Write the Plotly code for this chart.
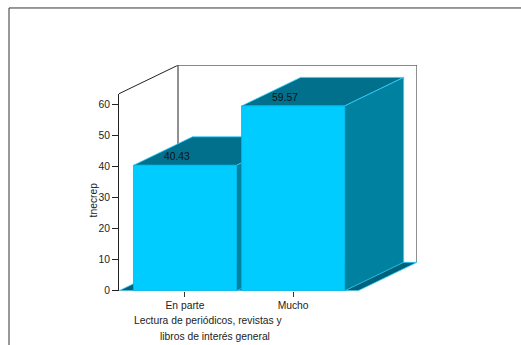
import plotly.graph_objects as go

# ---- data ----
categories = ["En parte", "Mucho"]
values = [40.43, 59.57]
y_ticks = [0, 10, 20, 30, 40, 50, 60]
y_title = "tnecrep"
x_title_lines = ["Lectura de periódicos, revistas y", "libros de interés general"]

# ---- geometry (pixels) ----
W, H = 521, 345
YS = 345 / 340.0  # vertical correction for rendering
AX_LEFT, AX_RIGHT = 119, 358
FLOOR_Y, AX_TOP = 291.7 * YS, 94 * YS
DEPTH_DX, DEPTH_DY = 59, 28.6 * YS
X_RANGE = [-0.61, 1.60]
Y_RANGE = [0, 63.5]
BAR_W = 0.953

ppx = (AX_RIGHT - AX_LEFT) / (X_RANGE[1] - X_RANGE[0])
ppy = (FLOOR_Y - AX_TOP) / (Y_RANGE[1] - Y_RANGE[0])
DX = DEPTH_DX / ppx
DY = DEPTH_DY / ppy

FRONT = "#00CCFF"
TOP = "#00708C"
SIDE = "#00819F"
FLOOR = "#00627A"
EDGE = "#2ECFFF"
FONT = "Liberation Sans, Arial, sans-serif"
FS = 10.3

xs = list(range(len(categories)))

fig = go.Figure()
fig.add_trace(go.Bar(
    x=xs, y=values, width=BAR_W,
    marker=dict(color=FRONT, line=dict(color="#00B5E5", width=0.8)),
    hoverinfo="skip", showlegend=False,
))
fig.add_trace(go.Scatter(
    x=[x - 0.075 for x in xs], y=[v + 2.4 for v in values],
    text=[f"{v:.2f}" for v in values], mode="text",
    textfont=dict(family=FONT, size=FS, color="#111"),
    showlegend=False, hoverinfo="skip",
))
# tick axes subplot (dummy trace)
fig.add_trace(go.Scatter(x=[None], y=[None], xaxis="x2", yaxis="y2",
                         showlegend=False, hoverinfo="skip"))

xmin, xmax = X_RANGE
ytop = Y_RANGE[1]
shapes = []

def path(pts, close=True):
    s = "M " + " L ".join(f"{x},{y}" for x, y in pts)
    return s + (" Z" if close else "")

# walls
shapes.append(dict(type="path", xref="x", yref="y", layer="below",
                   path=path([(xmin, ytop), (xmin + DX, ytop + DY), (xmax + DX, ytop + DY),
                              (xmax + DX, DY)], close=False),
                   line=dict(color="#222", width=1)))
shapes.append(dict(type="path", xref="x", yref="y", layer="below",
                   path=path([(xmin + DX, ytop + DY), (xmin + DX, DY)], close=False),
                   line=dict(color="#222", width=1)))
# floor
shapes.append(dict(type="path", xref="x", yref="y", layer="below",
                   path=path([(xmin, 0), (xmax, 0), (xmax + DX, DY), (xmin + DX, DY)]),
                   fillcolor=FLOOR, line=dict(color=EDGE, width=0.8)))
# bar tops & sides
for x, v in zip(xs, values):
    xl, xr = x - BAR_W / 2, x + BAR_W / 2
    shapes.append(dict(type="path", xref="x", yref="y", layer="below",
                       path=path([(xl, v), (xr, v), (xr + DX, v + DY), (xl + DX, v + DY)]),
                       fillcolor=TOP, line=dict(color=EDGE, width=0.8)))
    shapes.append(dict(type="path", xref="x", yref="y", layer="below",
                       path=path([(xr, 0), (xr, v), (xr + DX, v + DY), (xr + DX, DY)]),
                       fillcolor=SIDE, line=dict(color=EDGE, width=0.8)))
# outer frame
shapes.append(dict(type="rect", xref="paper", yref="paper",
                   x0=9 / W, x1=1.05, y0=-0.05, y1=(H - 8 * YS) / H,
                   line=dict(color="#333", width=1), layer="above"))

annotations = [
    dict(text=y_title, xref="paper", yref="paper", x=93 / W, y=(H - 200 * YS) / H,
         textangle=-90, showarrow=False, xanchor="center", yanchor="middle",
         font=dict(family=FONT, size=FS, color="#222")),
    dict(text=x_title_lines[0], xref="paper", yref="paper", x=208 / W, y=(H - 321 * YS) / H,
         showarrow=False, xanchor="center", yanchor="middle",
         font=dict(family=FONT, size=FS, color="#222")),
    dict(text=x_title_lines[1], xref="paper", yref="paper", x=215 / W, y=(H - 337 * YS) / H,
         showarrow=False, xanchor="center", yanchor="middle",
         font=dict(family=FONT, size=FS, color="#222")),
]

fig.update_layout(
    width=W, height=H, autosize=False,
    margin=dict(l=0, r=0, t=0, b=0),
    paper_bgcolor="white", plot_bgcolor="rgba(0,0,0,0)",
    shapes=shapes, annotations=annotations,
    xaxis=dict(domain=[AX_LEFT / W, (AX_RIGHT + DEPTH_DX) / W],
               range=[xmin, xmax + DX], visible=False, fixedrange=True),
    yaxis=dict(domain=[(H - FLOOR_Y) / H, (H - (AX_TOP - DEPTH_DY)) / H],
               range=[0, ytop + DY], visible=False, fixedrange=True),
    xaxis2=dict(domain=[AX_LEFT / W, AX_RIGHT / W], range=X_RANGE, anchor="y2",
                tickmode="array", tickvals=xs, ticktext=categories,
                ticks="outside", ticklen=5, tickcolor="#333",
                showline=False, showgrid=False, zeroline=False, fixedrange=True,
                tickfont=dict(family=FONT, size=FS, color="#222")),
    yaxis2=dict(domain=[(H - FLOOR_Y) / H, (H - AX_TOP) / H], range=Y_RANGE, anchor="x2",
                tickmode="array", tickvals=y_ticks,
                ticks="outside", ticklen=6, tickcolor="#222",
                showline=True, linecolor="#222", linewidth=1, fixedrange=True,
                showgrid=False, zeroline=False,
                tickfont=dict(family=FONT, size=FS, color="#222")),
)

fig.write_html(
    "out.html",
    config={"displayModeBar": False, "staticPlot": True},
    post_script=(
        "document.documentElement.style.margin='0';"
        "document.documentElement.style.overflow='hidden';"
        "document.body.style.margin='0';"
        "document.body.style.overflow='hidden';"
    ),
)
